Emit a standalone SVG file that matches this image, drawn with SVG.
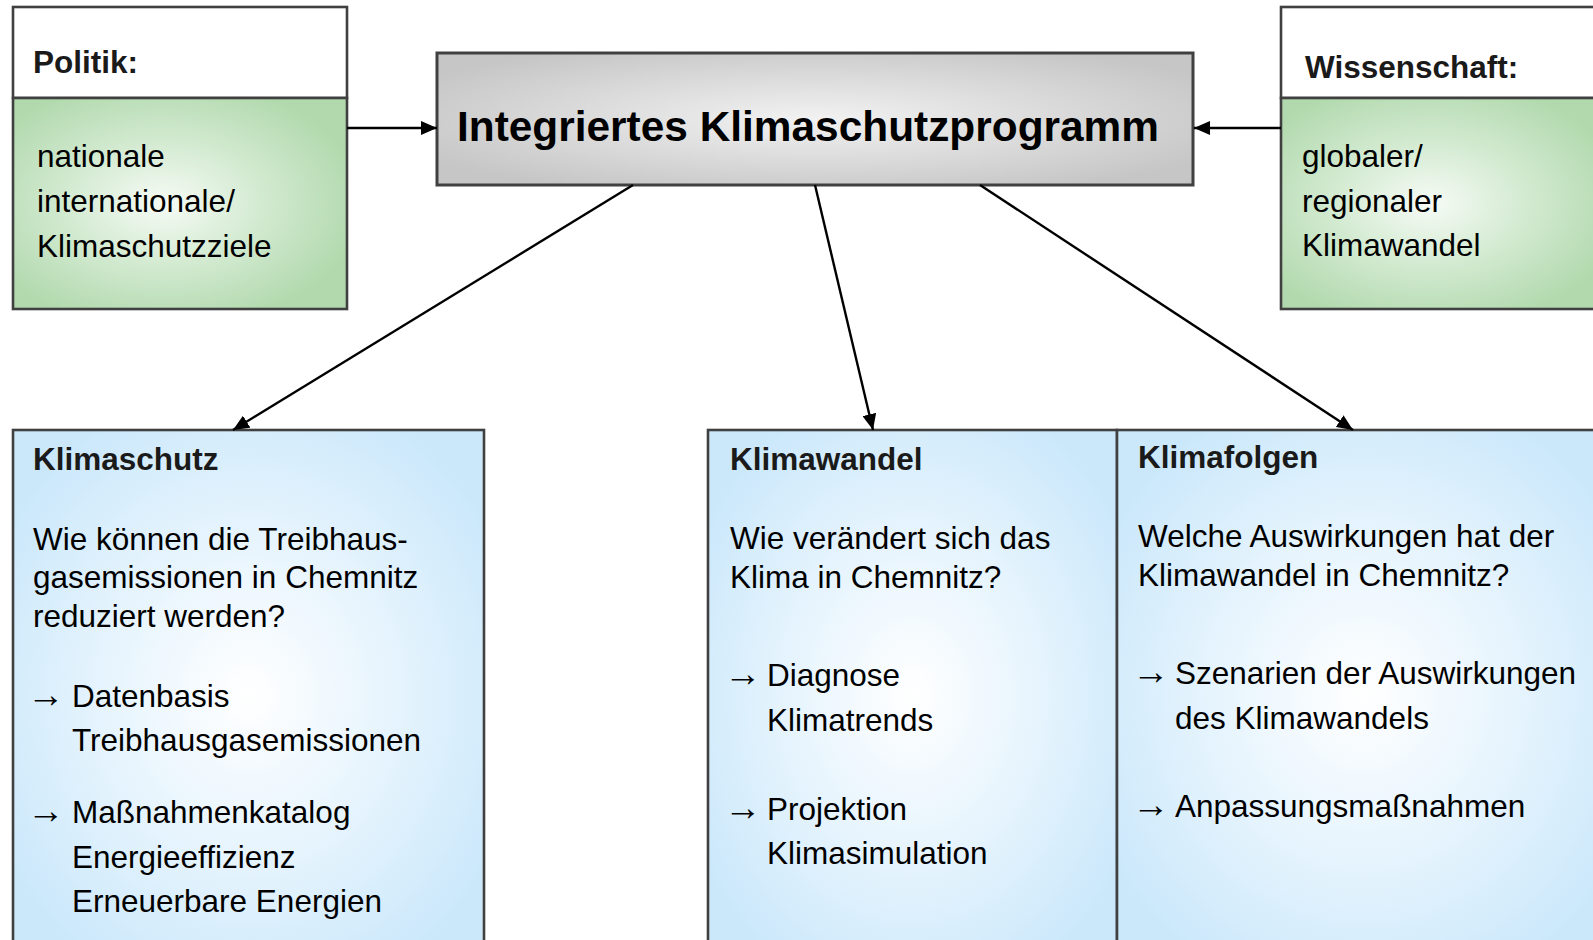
<svg xmlns="http://www.w3.org/2000/svg" width="1593" height="940" viewBox="0 0 1593 940">
<defs>
<radialGradient id="gGreen" cx="0.45" cy="0.5" r="0.6">
<stop offset="0" stop-color="#f6fbf5"/>
<stop offset="0.5" stop-color="#d2ead0"/>
<stop offset="1" stop-color="#b1d9ad"/>
</radialGradient>
<radialGradient id="gGray" cx="0.5" cy="0.5" r="0.6">
<stop offset="0" stop-color="#f2f2f2"/>
<stop offset="1" stop-color="#c6c6c6"/>
</radialGradient>
<radialGradient id="gBlue" cx="0.5" cy="0.5" r="0.6">
<stop offset="0" stop-color="#ffffff"/>
<stop offset="0.55" stop-color="#e4f3fd"/>
<stop offset="1" stop-color="#cbe8fb"/>
</radialGradient>
<marker id="ah" viewBox="0 0 16 14" refX="16" refY="7" markerWidth="16" markerHeight="14" markerUnits="userSpaceOnUse" orient="auto">
<path d="M0,0 L16,7 L0,14 z" fill="#000"/>
</marker>
<style>
.box{stroke:#404040;stroke-width:2.6}
.t{font-family:"Liberation Sans",Arial,sans-serif;font-size:31.5px;fill:#000}
.b{font-weight:bold;fill:#1a1a1a}
.ar{font-family:"Liberation Sans",Arial,sans-serif;font-size:37.5px;fill:#000}
.con{stroke:#000;stroke-width:2.4;fill:none;marker-end:url(#ah)}
</style>
</defs>

<g id="politik">
<rect class="box" x="13" y="7" width="334" height="91" fill="#fff"/>
<rect class="box" x="13" y="98" width="334" height="211" fill="url(#gGreen)"/>
<text class="t b" x="33" y="73">Politik:</text>
<text class="t" x="37" y="167">nationale</text>
<text class="t" x="37" y="212">internationale/</text>
<text class="t" x="37" y="257">Klimaschutzziele</text>
</g>

<g id="wissenschaft">
<rect class="box" x="1281" y="7" width="330" height="91" fill="#fff"/>
<rect class="box" x="1281" y="98" width="330" height="211" fill="url(#gGreen)"/>
<text class="t b" x="1305" y="78">Wissenschaft:</text>
<text class="t" x="1302" y="167">globaler/</text>
<text class="t" x="1302" y="212">regionaler</text>
<text class="t" x="1302" y="256">Klimawandel</text>
</g>

<g id="programm">
<rect x="437" y="53" width="756" height="132" fill="url(#gGray)" stroke="#404040" stroke-width="3"/>
<text class="t b" x="457" y="141" style="font-size:42.5px;fill:#000" textLength="702" lengthAdjust="spacingAndGlyphs">Integriertes Klimaschutzprogramm</text>
</g>

<g id="klimaschutz">
<rect class="box" x="13" y="430" width="471" height="530" fill="url(#gBlue)"/>
<text class="t b" x="33" y="470">Klimaschutz</text>
<text class="t" x="33" y="550">Wie können die Treibhaus-</text>
<text class="t" x="33" y="588">gasemissionen in Chemnitz</text>
<text class="t" x="33" y="627">reduziert werden?</text>
<text class="ar" x="27" y="707">→</text>
<text class="t" x="72" y="707">Datenbasis</text>
<text class="t" x="72" y="751">Treibhausgasemissionen</text>
<text class="ar" x="27" y="823">→</text>
<text class="t" x="72" y="823">Maßnahmenkatalog</text>
<text class="t" x="72" y="868">Energieeffizienz</text>
<text class="t" x="72" y="912">Erneuerbare Energien</text>
</g>

<g id="klimawandel">
<rect class="box" x="708" y="430" width="409" height="530" fill="url(#gBlue)"/>
<text class="t b" x="730" y="470">Klimawandel</text>
<text class="t" x="730" y="549">Wie verändert sich das</text>
<text class="t" x="730" y="588">Klima in Chemnitz?</text>
<text class="ar" x="724" y="686">→</text>
<text class="t" x="767" y="686">Diagnose</text>
<text class="t" x="767" y="731">Klimatrends</text>
<text class="ar" x="724" y="820">→</text>
<text class="t" x="767" y="820">Projektion</text>
<text class="t" x="767" y="864">Klimasimulation</text>
</g>

<g id="klimafolgen">
<rect class="box" x="1117" y="430" width="494" height="530" fill="url(#gBlue)"/>
<text class="t b" x="1138" y="468">Klimafolgen</text>
<text class="t" x="1138" y="547">Welche Auswirkungen hat der</text>
<text class="t" x="1138" y="586">Klimawandel in Chemnitz?</text>
<text class="ar" x="1132" y="684">→</text>
<text class="t" x="1175" y="684">Szenarien der Auswirkungen</text>
<text class="t" x="1175" y="729">des Klimawandels</text>
<text class="ar" x="1132" y="817">→</text>
<text class="t" x="1175" y="817">Anpassungsmaßnahmen</text>
</g>

<g id="connectors">
<line class="con" x1="347" y1="128" x2="437" y2="128"/>
<line class="con" x1="1281" y1="128" x2="1194" y2="128"/>
<line class="con" x1="633" y1="185" x2="233" y2="430"/>
<line class="con" x1="815" y1="185" x2="873" y2="430"/>
<line class="con" x1="980" y1="185" x2="1353" y2="430"/>
</g>
</svg>
